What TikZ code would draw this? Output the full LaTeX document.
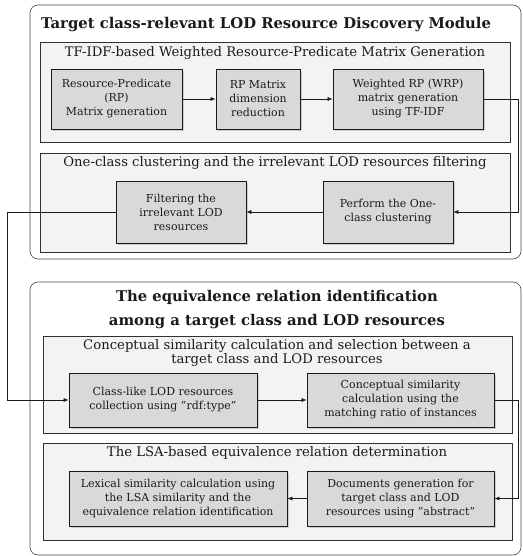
\documentclass[tikz,border=0pt]{standalone}
\usepackage{fontspec}
\setmainfont{DejaVu Serif}
\usepackage{tikz}
\usetikzlibrary{arrows.meta,shadows}

\definecolor{panelgray}{HTML}{F3F3F3}
\definecolor{stepgray}{HTML}{D9D9D9}
\definecolor{inkgray}{HTML}{1A1A1A}

\tikzset{
  module/.style={draw=inkgray!80,rounded corners=8pt,line width=0.6pt,fill=white},
  panel/.style={draw=inkgray!90,line width=0.6pt,fill=panelgray},
  stepbox/.style={draw=inkgray,line width=0.7pt,fill=stepgray,align=center,
    font=\fontsize{11}{14}\selectfont,text=inkgray,inner sep=2pt,
    drop shadow={shadow xshift=2pt,shadow yshift=-2pt,fill=black!35}},
  modtitle/.style={font=\fontsize{14.8}{24}\selectfont\bfseries,text=inkgray,align=center},
  paneltitle/.style={font=\fontsize{13.2}{14}\selectfont,text=inkgray,align=center},
  arr/.style={-{Latex[length=5pt,width=4pt]},line width=0.6pt,draw=inkgray}
}

\begin{document}
\begin{tikzpicture}[x=1pt,y=-1pt]
    \useasboundingbox (0,0) rectangle (522,556);

    % Resource discovery module
    \draw[module] (30,5) rectangle (521,259);
    \node[modtitle] (title1) at (266,25) {Target class-relevant LOD Resource Discovery Module};

    \draw[panel] (40,42) rectangle (510,142);
    \node[paneltitle] (sub1) at (275,53) {TF-IDF-based Weighted Resource-Predicate Matrix Generation};
    \node[stepbox,minimum width=131pt,minimum height=60pt] (rp) at (116.5,99) {Resource-Predicate\\(RP)\\Matrix generation};
    \node[stepbox,minimum width=84pt,minimum height=60pt] (red) at (258,99) {RP Matrix\\dimension\\reduction};
    \node[stepbox,minimum width=150pt,minimum height=60pt] (wrp) at (408,99) {Weighted RP (WRP)\\matrix generation\\using TF-IDF};

    \draw[panel] (40,153) rectangle (510,252);
    \node[paneltitle] (sub2) at (275,163) {One-class clustering and the irrelevant LOD resources filtering};
    \node[stepbox,minimum width=130pt,minimum height=62pt] (filt) at (181,212) {Filtering the\\irrelevant LOD\\resources};
    \node[stepbox,minimum width=130pt,minimum height=62pt] (clus) at (388,212) {Perform the One-\\class clustering};

    % Equivalence relation module
    \draw[module] (30,282) rectangle (521,555);
    \node[modtitle] (title2) at (277,310) {The equivalence relation identification\\among a target class and LOD resources};

    \draw[panel] (43,336) rectangle (512,433);
    \node[paneltitle,font=\fontsize{13.2}{13.5}\selectfont] (sub3) at (277,353) {Conceptual similarity calculation and selection between a\\target class and LOD resources};
    \node[stepbox,minimum width=188pt,minimum height=54pt] (coll) at (163,400) {Class-like LOD resources\\collection using ''rdf:type''};
    \node[stepbox,minimum width=187pt,minimum height=54pt] (csim) at (400.5,400) {Conceptual similarity\\calculation using the\\matching ratio of instances};

    \draw[panel] (43,443) rectangle (512,540);
    \node[paneltitle] (sub4) at (277,453) {The LSA-based equivalence relation determination};
    \node[stepbox,minimum width=218pt,minimum height=55pt] (lex) at (178,498.5) {Lexical similarity calculation using\\the LSA similarity and the\\equivalence relation identification};
    \node[stepbox,minimum width=187pt,minimum height=55pt] (docs) at (400.5,498.5) {Documents generation for\\target class and LOD\\resources using ''abstract''};

    % Connectors
    \coordinate (lft) at (7,0);
    \draw[arr] (rp) -- (red);
    \draw[arr] (red) -- (wrp);
    \draw[arr] (wrp.east) -- ++(35,0) |- (clus.east);
    \draw[arr] (clus) -- (filt);
    \draw[arr] (filt.west) -- (filt.west -| lft) -- (lft |- coll.west) -- (coll.west);
    \draw[arr] (coll) -- (csim);
    \draw[arr] (csim.east) -- ++(24,0) |- (docs.east);
    \draw[arr] (docs) -- (lex);
\end{tikzpicture}
\end{document}
